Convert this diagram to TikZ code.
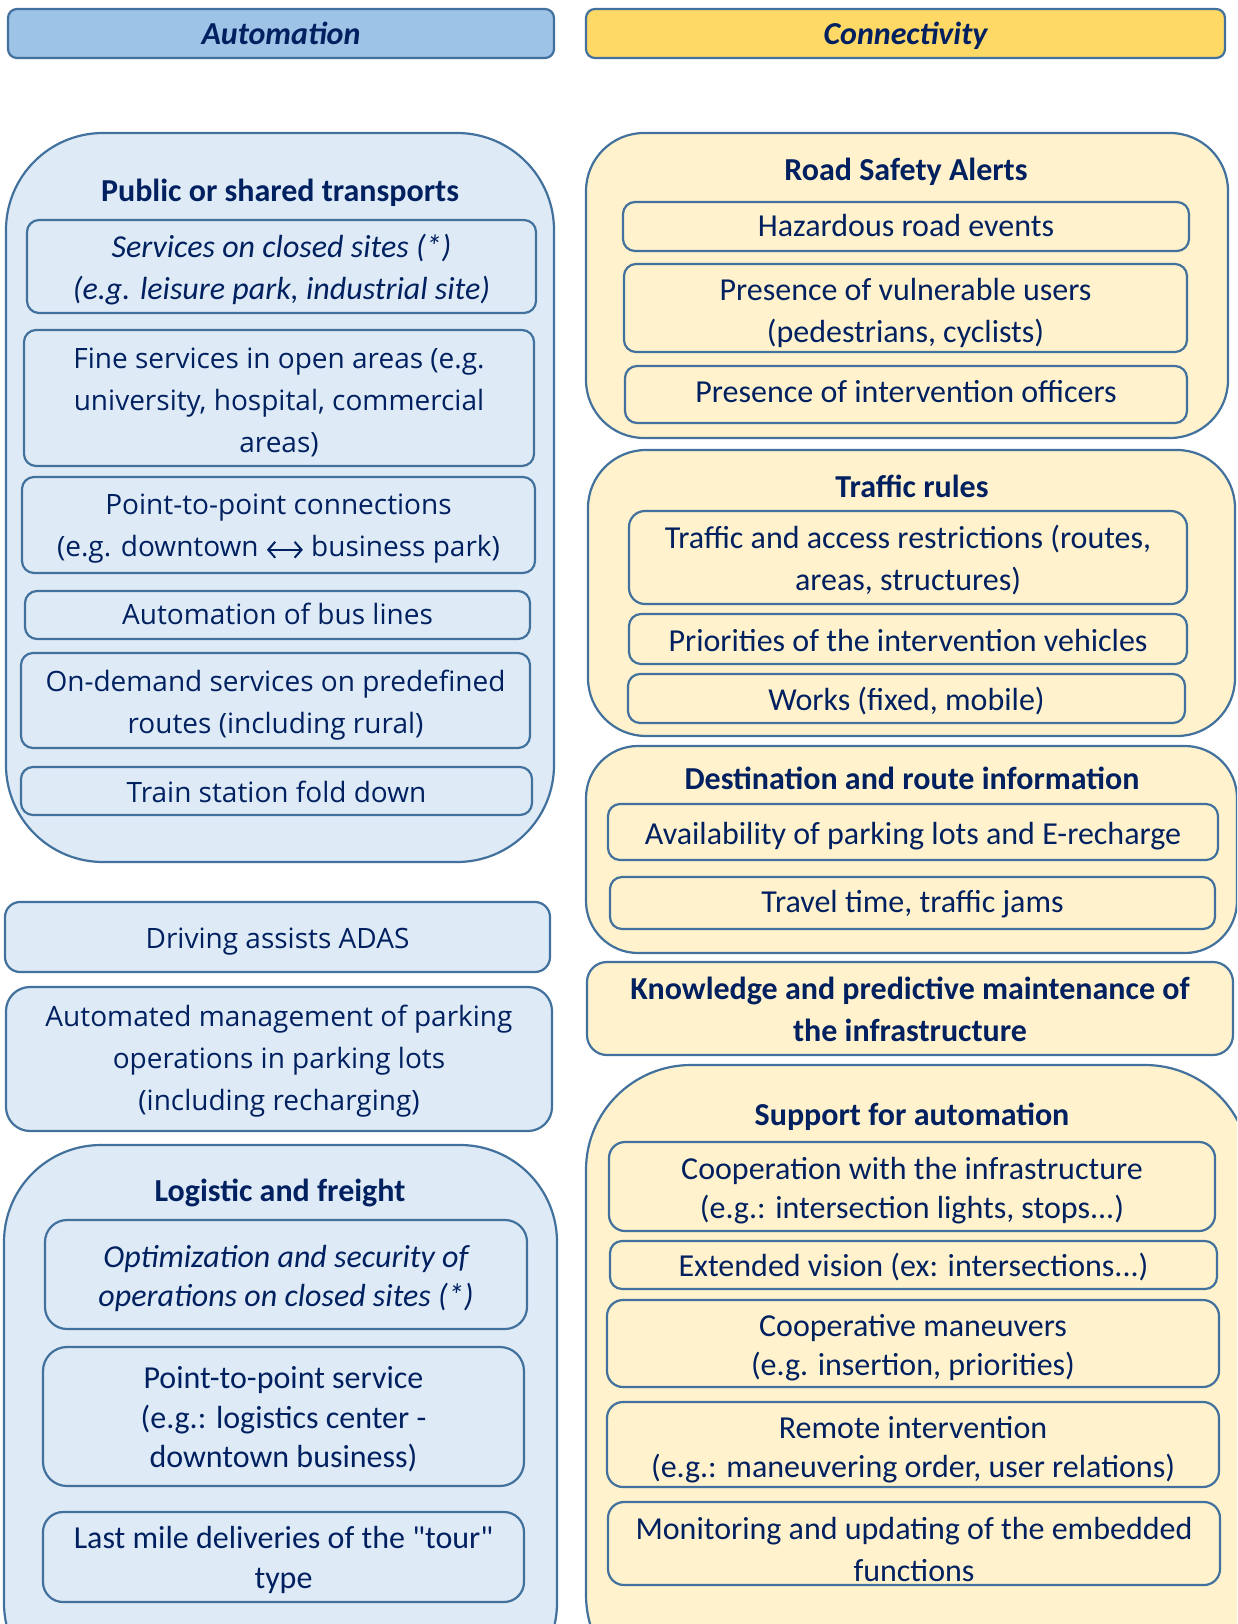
\documentclass[tikz,border=0pt]{standalone}
\usepackage{fontspec}
\usetikzlibrary{arrows.meta}
\setmainfont{Carlito}
\newfontfamily\cq{Carlito}[Ligatures=TeXOff]
\newfontfamily\osans{Open Sans}
\definecolor{navy}{HTML}{002060}
\definecolor{bord}{HTML}{41719C}
\definecolor{bluefill}{HTML}{DEEBF7}
\definecolor{bluehead}{HTML}{9DC3E6}
\definecolor{yelfill}{HTML}{FFF2CC}
\definecolor{yelhead}{HTML}{FFD966}
\newcommand\cf{\fontsize{32}{42.5}\selectfont}
\newcommand\cfs{\fontsize{32}{39.3}\selectfont}
\newcommand\of{\osans\fontsize{28}{42}\selectfont}
\newcommand\tstrut{\rule{0pt}{24pt}}
\newcommand\bstrut{\rule[-8pt]{0pt}{8pt}}
\newsavebox\arrbox
% name, box style, text style, x1, y1, x2, y2, text
\newcommand\bx[8]{%
  \node[#2, minimum width={#6-#4}, minimum height={#7-#5}] (#1) at ({(#4+#6)/2},{(#5+#7)/2}) {};
  \node[txt, #3] (#1t) at (#1.center) {#8};}
\tikzset{
  base/.style={draw=bord, line width=2.2pt, inner sep=0pt},
  bl/.style={base, fill=bluefill},
  yl/.style={base, fill=yelfill},
  bh/.style={base, fill=bluehead, rounded corners=9pt},
  yh/.style={base, fill=yelhead, rounded corners=9pt},
  sm/.style={rounded corners=12pt},
  txt/.style={text=navy, inner sep=0pt, align=center,
    execute at begin node=\tstrut, execute at end node=\bstrut},
  ct/.style={font=\cf, yshift=-4.5pt},
  cti/.style={font=\cf\itshape, yshift=-4.5pt},
  cts/.style={font=\cfs, yshift=-5.5pt},
  ctsi/.style={font=\cfs\itshape, yshift=-5.5pt},
  ot/.style={font=\of, yshift=-3pt},
  ht/.style={font=\cf\bfseries\itshape, yshift=-3pt},
  ttl/.style={txt, font=\cf\bfseries},
}
\begin{document}
\sbox\arrbox{\begin{pgfpicture}%
  \pgfsetbaseline{-7pt}%
  \pgfsetlinewidth{2pt}%
  \pgfsetstrokecolor{navy}%
  \pgfsetarrows{{Straight Barb[length=7pt,width=16pt]}-{Straight Barb[length=7pt,width=16pt]}}%
  \pgfpathmoveto{\pgfpoint{0pt}{0pt}}%
  \pgfpathlineto{\pgfpoint{36pt}{0pt}}%
  \pgfusepath{stroke}%
\end{pgfpicture}}%
\begin{tikzpicture}[x=1pt,y=-1pt]
\useasboundingbox (0,0) rectangle (1237,1624);
\clip (0,0) rectangle (1237,1624);
\fill[white] (0,0) rectangle (1237,1624);
% headers
\bx{hA}{bh}{ht}{8}{9}{554}{58}{Automation}
\bx{hC}{yh}{ht}{586}{9}{1225}{58}{Connectivity}
% ---------- left column ----------
\node[bl, rounded corners=97pt, minimum width=548, minimum height=729] (pub) at (280,497.5) {};
\node[ttl] (pubt) at (280,193) {Public or shared transports};
\bx{p1}{bl, sm}{cti}{27}{220}{536}{313}{Services on closed sites (*)\\(e.g. leisure park, industrial site)}
\bx{p2}{bl, sm}{ot, yshift=-3pt}{24}{330}{534}{466}{Fine services in open areas (e.g.\\university, hospital, commercial\\areas)}
\bx{p3}{bl, sm}{ot, yshift=-1.5pt}{22}{477}{535}{573}{Point-to-point connections\\(e.g. downtown \usebox\arrbox\ business park)}
\bx{p4}{bl, sm}{ot, yshift=2pt}{25}{591}{530}{639}{Automation of bus lines}
\bx{p5}{bl, sm}{ot, yshift=-2pt}{21}{653}{530}{748}{On-demand services on predefined\\routes (including rural)}
\bx{p6}{bl, sm}{ot}{21}{767}{532}{815}{Train station fold down}
\bx{adas}{bl, rounded corners=15pt}{ot}{5}{902}{550}{972}{Driving assists ADAS}
\bx{amp}{bl, rounded corners=24pt}{ot}{6}{987}{552}{1131}{Automated management of parking\\operations in parking lots\\(including recharging)}
\node[bl, rounded corners=97pt, minimum width=553, minimum height=555] (log) at (280.5,1422.5) {};
\node[ttl] (logt) at (280,1193) {Logistic and freight};
\bx{l1}{bl, rounded corners=22pt}{ctsi}{45}{1220}{527}{1329}{Optimization and security of\\operations on closed sites (*)}
\bx{l2}{bl, rounded corners=24pt}{cts, yshift=1pt}{43}{1347}{524}{1486}{Point-to-point service\\(e.g.: logistics center -\\downtown business)}
\bx{l3}{bl, rounded corners=20pt}{cts, yshift=1pt}{43}{1512}{524}{1602}{Last mile deliveries of the {\cq"}tour{\cq"}\\type}
% ---------- right column ----------
\node[yl, rounded corners=58pt, minimum width=642, minimum height=305] (rsa) at (907,285.5) {};
\node[ttl] (rsat) at (906,173) {Road Safety Alerts};
\bx{r1}{yl, sm}{ct, yshift=3pt}{623}{202}{1189}{251}{Hazardous road events}
\bx{r2}{yl, sm}{ct, yshift=-2pt}{624}{264}{1187}{352}{Presence of vulnerable users\\(pedestrians, cyclists)}
\bx{r3}{yl, sm}{ct, yshift=5pt}{625}{366}{1187}{423}{Presence of intervention officers}
\node[yl, rounded corners=58pt, minimum width=647, minimum height=286] (tr) at (911.5,593) {};
\node[ttl] (trt) at (912,489) {Traffic rules};
\bx{t1}{yl, rounded corners=16pt}{ct}{629}{511}{1187}{604}{Traffic and access restrictions (routes,\\areas, structures)}
\bx{t2}{yl, sm}{ct}{629}{614}{1187}{664}{Priorities of the intervention vehicles}
\bx{t3}{yl, sm}{ct, yshift=1pt}{628}{674}{1185}{723}{Works (fixed, mobile)}
\node[yl, rounded corners=52pt, minimum width=651, minimum height=207] (dri) at (911.5,849.5) {};
\node[ttl] (drit) at (912,781.5) {Destination and route information};
\bx{d1}{yl, sm}{ct}{608}{804}{1218}{860}{Availability of parking lots and E-recharge}
\bx{d2}{yl, sm}{ct, yshift=3pt}{610}{877}{1215}{929}{Travel time, traffic jams}
\bx{kpm}{yl, rounded corners=20pt}{ct, font=\cf\bfseries}{587}{962}{1233}{1055}{Knowledge and predictive maintenance of\\the infrastructure}
\node[yl, rounded corners=105pt, minimum width=664, minimum height=635] (sfa) at (918,1382.5) {};
\node[ttl] (sfat) at (912,1117) {Support for automation};
\bx{s1}{yl, rounded corners=16pt}{cts}{609}{1142}{1215}{1231}{Cooperation with the infrastructure\\(e.g.: intersection lights, stops...)}
\bx{s2}{yl, sm}{cts, yshift=2pt}{610}{1241}{1217}{1289}{Extended vision (ex: intersections...)}
\bx{s3}{yl, rounded corners=16pt}{cts}{607}{1300}{1219}{1387}{Cooperative maneuvers\\(e.g. insertion, priorities)}
\bx{s4}{yl, rounded corners=16pt}{cts, yshift=-1pt}{607}{1402}{1219}{1487}{Remote intervention\\(e.g.: maneuvering order, user relations)}
\bx{s5}{yl, rounded corners=16pt}{ct, yshift=-5.5pt}{608}{1502}{1220}{1585}{Monitoring and updating of the embedded\\functions}
\end{tikzpicture}
\end{document}
